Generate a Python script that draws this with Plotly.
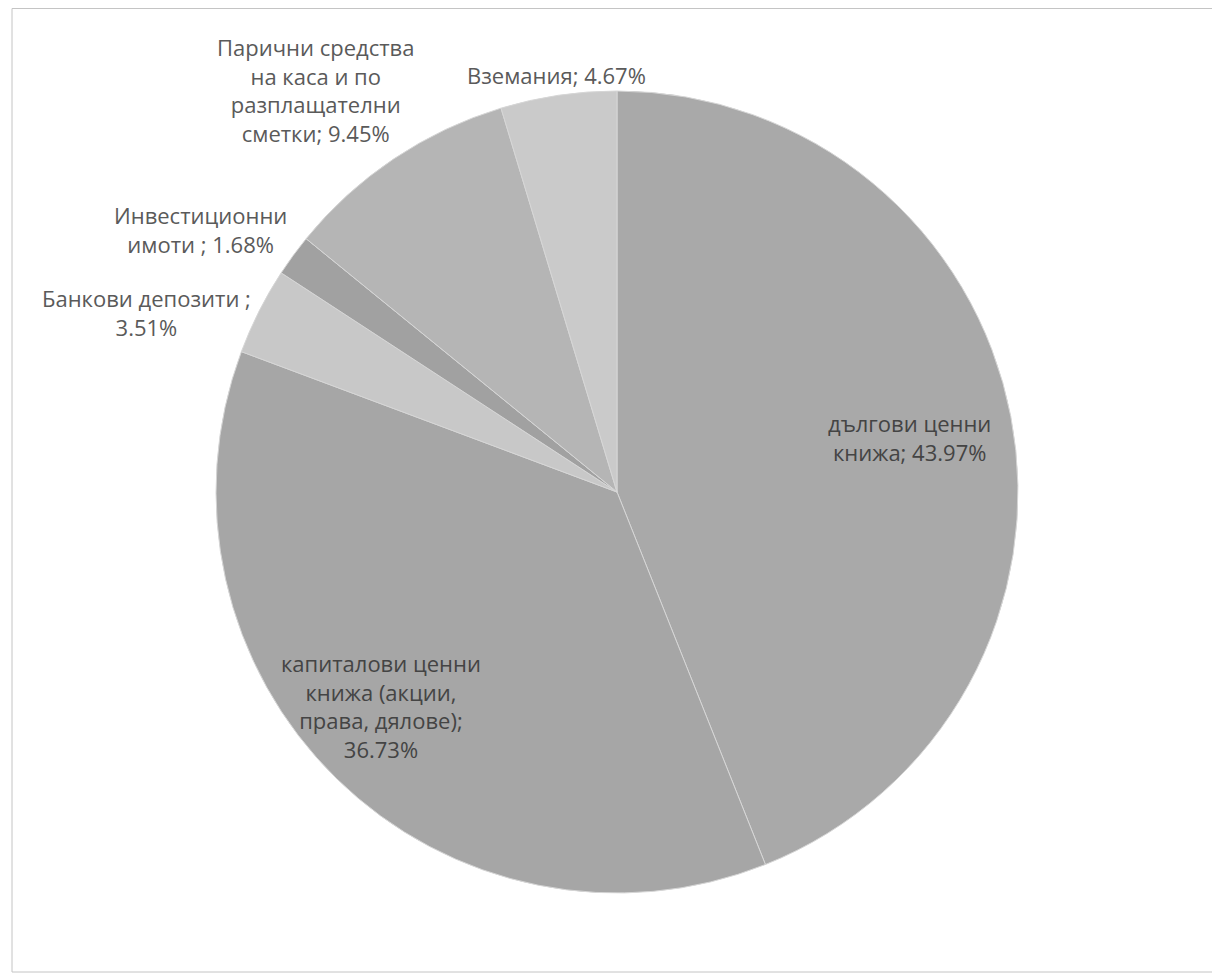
import plotly.graph_objects as go

categories = [
    "дългови ценни книжа",
    "капиталови ценни книжа (акции, права, дялове)",
    "Банкови депозити",
    "Инвестиционни имоти",
    "Парични средства на каса и по разплащателни сметки",
    "Вземания",
]
values = [43.97, 36.73, 3.51, 1.68, 9.45, 4.67]
colors = ["#a9a9a9", "#a6a6a6", "#c8c8c8", "#a1a1a1", "#b5b5b5", "#cacaca"]

# wrapped label text (as in the reference)
label_text = [
    f"дългови ценни<br>книжа; {values[0]:.2f}%",
    f"капиталови ценни<br>книжа (акции,<br>права, дялове);<br>{values[1]:.2f}%",
    f"Банкови депозити ;<br>{values[2]:.2f}%",
    f"Инвестиционни<br>имоти ; {values[3]:.2f}%",
    f"Парични средства<br>на каса и по<br>разплащателни<br>сметки; {values[4]:.2f}%",
    f"Вземания; {values[5]:.2f}%",
]

OFF = 8  # page body margin
W, H = 1220 - OFF, 977 - OFF
cx, cy, r = 617 - OFF, 492 - OFF, 401

fig = go.Figure(go.Pie(
    labels=categories,
    values=values,
    sort=False,
    direction="clockwise",
    rotation=0,
    marker=dict(colors=colors, line=dict(color="#d6d6d6", width=1)),
    textinfo="none",
    hoverinfo="label+percent",
    showlegend=False,
    domain=dict(x=[(cx - r) / W, (cx + r) / W], y=[1 - (cy + r) / H, 1 - (cy - r) / H]),
))

# label centres in reference pixels (x, y of the text block centre)
label_pos = [
    (909, 437),
    (381, 706),
    (146, 313),
    (200, 229),
    (315, 90),
    (556, 75),
]
font_col = ["#444444", "#444444", "#5a5a5a", "#5a5a5a", "#5a5a5a", "#5a5a5a"]

for txt, (px, py), fc in zip(label_text, label_pos, font_col):
    fig.add_annotation(
        x=(px - OFF) / W, y=1 - (py - OFF) / H, xref="paper", yref="paper",
        text=txt, showarrow=False, align="center",
        xanchor="center", yanchor="middle",
        font=dict(family="Open Sans", size=22, color=fc),
    )

fig.add_shape(type="rect", xref="paper", yref="paper",
              x0=(12 - OFF) / W, x1=(1216 - OFF) / W,
              y0=1 - (972 - OFF) / H, y1=1 - 0.5 / H,
              line=dict(color="#c4c4c4", width=1))

fig.update_layout(
    width=W, height=H,
    margin=dict(l=0, r=0, t=0, b=0),
    paper_bgcolor="white",
    plot_bgcolor="white",
)

fig.write_html("out.html")
